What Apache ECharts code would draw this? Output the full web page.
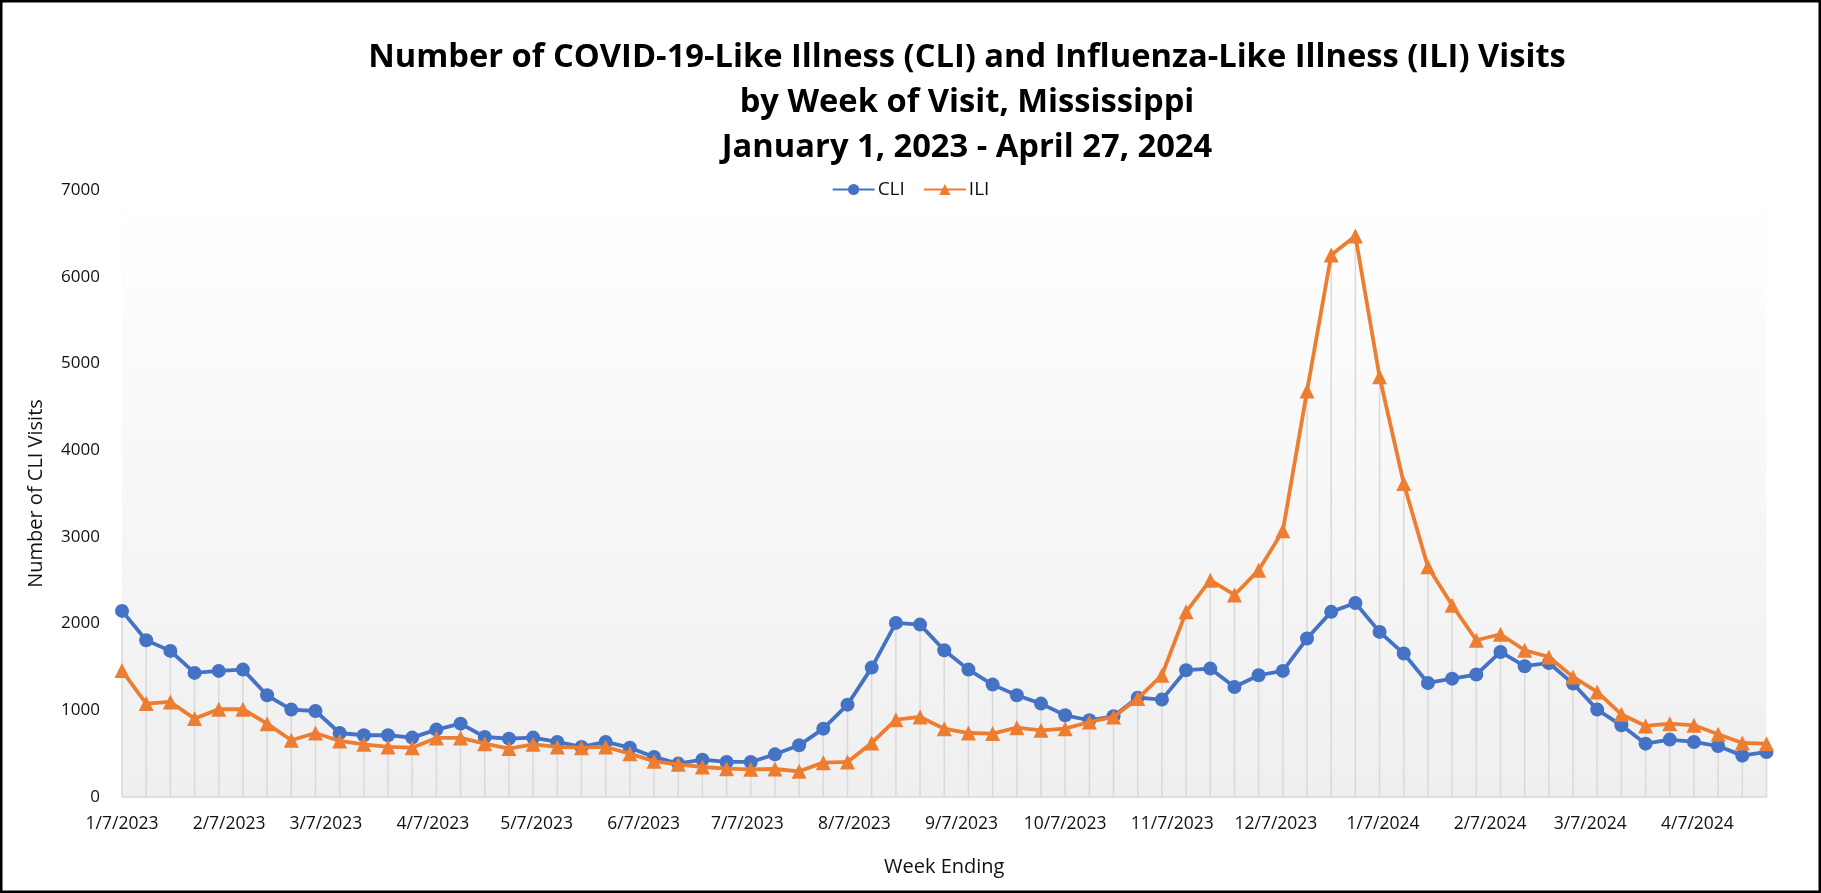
<!DOCTYPE html>
<html>
<head>
<meta charset="utf-8">
<script src="https://cdn.jsdelivr.net/npm/echarts@6/dist/echarts.min.js"></script>
<style>
html,body{margin:0;padding:0;background:#fff;}
#chart{width:1821px;height:893px;}
</style>
</head>
<body>
<div id="chart"></div>
<script>
const weekEnding = [
"2023-01-07","2023-01-14","2023-01-21","2023-01-28","2023-02-04","2023-02-11","2023-02-18","2023-02-25",
"2023-03-04","2023-03-11","2023-03-18","2023-03-25","2023-04-01","2023-04-08","2023-04-15","2023-04-22",
"2023-04-29","2023-05-06","2023-05-13","2023-05-20","2023-05-27","2023-06-03","2023-06-10","2023-06-17",
"2023-06-24","2023-07-01","2023-07-08","2023-07-15","2023-07-22","2023-07-29","2023-08-05","2023-08-12",
"2023-08-19","2023-08-26","2023-09-02","2023-09-09","2023-09-16","2023-09-23","2023-09-30","2023-10-07",
"2023-10-14","2023-10-21","2023-10-28","2023-11-04","2023-11-11","2023-11-18","2023-11-25","2023-12-02",
"2023-12-09","2023-12-16","2023-12-23","2023-12-30","2024-01-06","2024-01-13","2024-01-20","2024-01-27",
"2024-02-03","2024-02-10","2024-02-17","2024-02-24","2024-03-02","2024-03-09","2024-03-16","2024-03-23",
"2024-03-30","2024-04-06","2024-04-13","2024-04-20","2024-04-27"
];
const cli = [
2146,1808,1685,1431,1454,1469,1173,1008,992,738,712,712,685,777,846,692,
673,685,635,577,635,569,462,385,431,404,404,492,596,788,1065,1492,
2008,1988,1692,1469,1296,1173,1077,942,885,931,1146,1123,1462,1481,1269,1404,
1454,1827,2135,2238,1904,1654,1315,1365,1412,1673,1508,1546,1308,1008,827,615,
662,635,588,477,519
];
const ili = [
1458,1077,1096,904,1012,1012,846,654,738,646,608,577,569,681,681,615,
558,608,577,569,577,500,412,377,346,327,319,323,296,396,404,623,
892,923,788,738,731,800,769,788,865,923,1135,1404,2135,2500,2330,2616,
3069,4681,6250,6470,4846,3616,2654,2212,1808,1877,1692,1615,1385,1212,954,819,
846,827,723,623,615
];
const xTickLabels = ["1/7/2023","2/7/2023","3/7/2023","4/7/2023","5/7/2023","6/7/2023","7/7/2023","8/7/2023",
"9/7/2023","10/7/2023","11/7/2023","12/7/2023","1/7/2024","2/7/2024","3/7/2024","4/7/2024"];
const yTicks = [0,1000,2000,3000,4000,5000,6000,7000];

function isoToUTC(s){const p=s.split('-').map(Number);return Date.UTC(p[0],p[1]-1,p[2]);}
function mdyToUTC(s){const p=s.split('/').map(Number);return Date.UTC(p[2],p[0]-1,p[1]);}
const xs = weekEnding.map(isoToUTC);
const tickVals = xTickLabels.map(mdyToUTC);
const labelMap = {};
tickVals.forEach((v,i)=>{labelMap[v]=xTickLabels[i];});

const FONT = "'Open Sans', 'Noto Sans', sans-serif";
const chart = echarts.init(document.getElementById('chart'), null, {renderer:'canvas'});
chart.setOption({
  animation:false,
  backgroundColor:'#fff',
  textStyle:{fontFamily:FONT},
  title:{
    text:'Number of COVID-19-Like Illness (CLI) and Influenza-Like Illness (ILI) Visits\nby Week of Visit, Mississippi\nJanuary 1, 2023 - April 27, 2024',
    left:962, top:30, textAlign:'center',
    textStyle:{fontFamily:FONT,fontSize:32.7,fontWeight:'bold',color:'#000',lineHeight:45}
  },
  legend:{
    data:['CLI','ILI'], left:'center', top:175,
    itemWidth:42, itemHeight:14, itemGap:18,
    textStyle:{fontFamily:FONT,fontSize:19,color:'#111',padding:[0,0,0,-2]}
  },
  graphic:[{type:'rect',shape:{x:1.25,y:1.25,width:1818.5,height:890.5},style:{fill:'none',stroke:'#000',lineWidth:2.5},z:100}],
  grid:{
    left:122,right:54.5,top:190,bottom:96,show:true,borderWidth:0,
    backgroundColor:new echarts.graphic.LinearGradient(0,0,0,1,[{offset:0,color:'#ffffff'},{offset:1,color:'#efefef'}])
  },
  xAxis:{
    type:'value', min:xs[0], max:xs[xs.length-1],
    name:'Week Ending', nameLocation:'middle', nameGap:60,
    nameTextStyle:{fontFamily:FONT,fontSize:20,color:'#111'},
    axisLine:{show:true,lineStyle:{color:'#d9d9d9',width:1.5}},
    axisTick:{show:false,customValues:tickVals},
    splitLine:{show:false},
    axisLabel:{customValues:tickVals,margin:18,fontFamily:FONT,fontSize:17.5,color:'#111',
      formatter:function(v){return labelMap[v]!==undefined?labelMap[v]:'';}}
  },
  yAxis:{
    type:'value', min:yTicks[0], max:yTicks[yTicks.length-1], interval:1000,
    name:'Number of CLI Visits', nameLocation:'middle', nameGap:76, nameRotate:90,
    nameTextStyle:{fontFamily:FONT,fontSize:20,color:'#111'},
    axisLine:{show:false}, axisTick:{show:false}, splitLine:{show:false},
    axisLabel:{margin:22,fontFamily:FONT,fontSize:17,color:'#111',formatter:function(v){return String(v);}}
  },
  series:[
    {
      type:'custom', name:'drop', silent:true, z:1,
      data:xs.map((x,i)=>[x,Math.max(cli[i],ili[i])]),
      encode:{x:0,y:1},
      renderItem:function(params,api){
        const p0=api.coord([api.value(0),0]);
        const p1=api.coord([api.value(0),api.value(1)]);
        return {type:'line',shape:{x1:p0[0],y1:p0[1],x2:p1[0],y2:p1[1]},style:{stroke:'#d9d9d9',lineWidth:1.5}};
      }
    },
    {
      type:'line', name:'CLI', z:3,
      data:xs.map((x,i)=>[x,cli[i]]),
      symbol:'circle', symbolSize:14,
      lineStyle:{color:'#4472C4',width:3.8},
      itemStyle:{color:'#4472C4'}
    },
    {
      type:'line', name:'ILI', z:4,
      data:xs.map((x,i)=>[x,ili[i]]),
      symbol:'triangle', symbolSize:15,
      lineStyle:{color:'#ED7D31',width:3.8},
      itemStyle:{color:'#ED7D31'}
    }
  ]
});
</script>
</body>
</html>
